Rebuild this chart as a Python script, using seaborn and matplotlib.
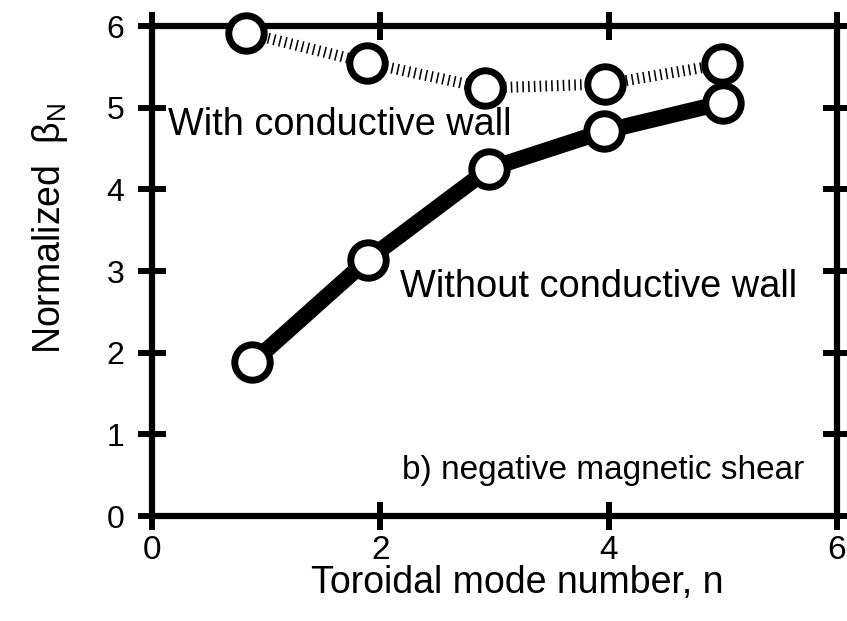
import numpy as np
import pandas as pd
import matplotlib
matplotlib.use("Agg")
import matplotlib.pyplot as plt
import seaborn as sns

# ---- data ----
n_with = [0.82, 1.88, 2.92, 3.97, 4.99]
beta_with = [5.92, 5.55, 5.24, 5.29, 5.53]
n_without = [0.88, 1.89, 2.95, 3.96, 5.00]
beta_without = [1.88, 3.14, 4.25, 4.71, 5.06]
x_ticks = [0, 2, 4, 6]
y_ticks = [0, 1, 2, 3, 4, 5, 6]

sns.set_style("white")
plt.rcParams['font.family'] = ['Liberation Sans', 'DejaVu Sans']
plt.rcParams['mathtext.fontset'] = 'custom'
plt.rcParams['mathtext.rm'] = 'Liberation Sans'
plt.rcParams['text.color'] = 'black'
plt.rcParams['axes.labelcolor'] = 'black'
plt.rcParams['xtick.color'] = 'black'
plt.rcParams['ytick.color'] = 'black'

W, H = 847, 621
fig = plt.figure(figsize=(W / 100, H / 100), dpi=100)
ax = fig.add_axes([152 / W, 1 - 516 / H, (837 - 152) / W, (516 - 26) / H])

df_w = pd.DataFrame({"n": n_with, "beta": beta_with})
df_wo = pd.DataFrame({"n": n_without, "beta": beta_without})

# hatched "with wall" line
sns.lineplot(data=df_w, x="n", y="beta", ax=ax, sort=False, color="black",
             lw=8, estimator=None, zorder=3)
ln = ax.lines[-1]
ln.set_dashes((0.14, 0.38))
ln.set_dash_capstyle('butt')
ln.set_clip_on(False)

# thick solid "without wall" line
sns.lineplot(data=df_wo, x="n", y="beta", ax=ax, sort=False, color="black",
             lw=11.5, estimator=None, zorder=4)
ax.lines[-1].set_solid_capstyle('round')
ax.lines[-1].set_solid_joinstyle('round')

# open circle markers
for d, z in ((df_w, 5), (df_wo, 6)):
    sns.scatterplot(data=d, x="n", y="beta", ax=ax, marker="o", s=650,
                    facecolor="white", edgecolor="black", linewidth=5,
                    zorder=z, clip_on=False)

ax.set_xlim(0, 6)
ax.set_ylim(0, 6)
ax.set_xticks(x_ticks)
ax.set_yticks(y_ticks)
ax.set_xticklabels([str(v) for v in x_ticks], fontsize=24)
ax.set_yticklabels([str(v) for v in y_ticks], fontsize=23)

for s in ax.spines.values():
    s.set_linewidth(4.5)
    s.set_color("black")
    s.set_visible(True)

ax.tick_params(direction='inout', length=20, width=4.3, top=True, right=True,
               left=True, bottom=True, color='black', pad=4)
ax.tick_params(axis='y', pad=10)

ax.set_xlabel("Toroidal mode number, n", fontsize=27)
ax.xaxis.set_label_coords((517 - 152) / 685, -(583 - 516) / 490)
ax.xaxis.label.set_va('center')
ax.set_ylabel(r"Normalized  $\mathregular{\beta_N}$", fontsize=27)
ax.yaxis.set_label_coords(-(152 - 50) / 685, (516 - 228) / 490)
ax.yaxis.label.set_va('center')

ax.text(0.14, 4.79, "With conductive wall", fontsize=27.3, ha="left", va="center")
ax.text(2.17, 2.80, "Without conductive wall", fontsize=27.4, ha="left", va="center")
ax.text(2.19, 0.56, "b) negative magnetic shear", fontsize=24, ha="left", va="center")

fig.savefig("out.png", dpi=100)
